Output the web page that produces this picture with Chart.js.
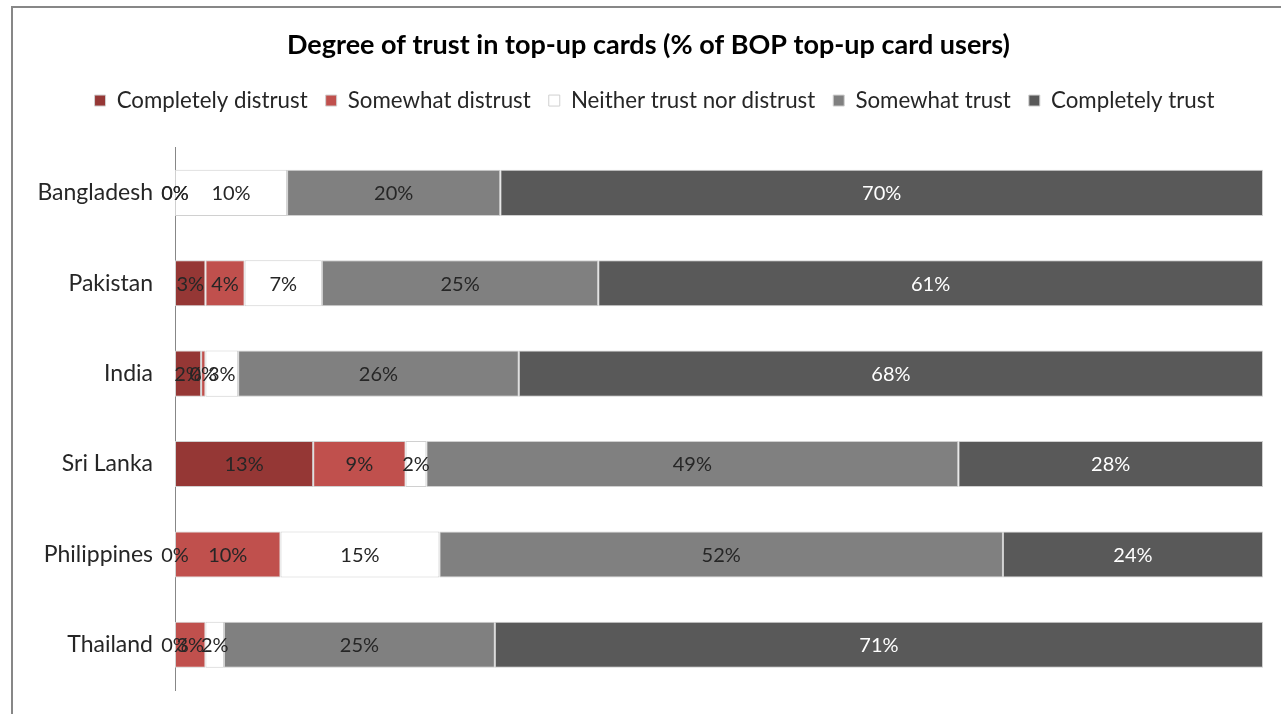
<!DOCTYPE html>
<html>
<head>
<meta charset="utf-8">
<script src="https://cdn.jsdelivr.net/npm/chart.js@4"></script>
<style>
  html, body { margin: 0; padding: 0; background: #fff; overflow: hidden; }
  #wrap { position: relative; width: 1281px; height: 714px; }
  #frame { position: absolute; left: 11px; top: 6px; right: 0; bottom: 0;
           border-left: 2px solid #878787; border-top: 2px solid #878787; pointer-events: none; }
  canvas { display: block; }
</style>
</head>
<body>
<div id="wrap">
  <canvas id="trustChart" width="1281" height="714"></canvas>
  <div id="frame"></div>
</div>
<script>
// Países (categorías)
var countries = ['Bangladesh', 'Pakistan', 'India', 'Sri Lanka', 'Philippines', 'Thailand'];

// Series (% de usuarios)
var completelyDistrust = [0, 2.8, 2.4, 12.7, 0, 0];
var somewhatDistrust   = [0, 3.6, 0.4, 8.5, 9.7, 2.8];
var neitherTrust       = [10.3, 7.1, 3.0, 1.9, 14.6, 1.7];
var somewhatTrust      = [19.6, 25.4, 25.8, 48.9, 51.8, 24.9];
var completelyTrust    = [70.1, 61.1, 68.4, 28.0, 23.9, 70.6];

var seriesNames = ['Completely distrust', 'Somewhat distrust', 'Neither trust nor distrust', 'Somewhat trust', 'Completely trust'];
var seriesColors = ['#953735', '#C0504D', '#FFFFFF', '#808080', '#595959'];
var labelColors = ['#262626', '#262626', '#262626', '#262626', '#FFFFFF'];

var FONT = "Lato, 'Open Sans', sans-serif";

// Plugin sencillo para escribir los porcentajes dentro de cada barra
var barLabels = {
    id: 'barLabels',
    afterDatasetsDraw: function(chart) {
        var ctx = chart.ctx;
        ctx.save();
        ctx.font = '20px ' + FONT;
        ctx.textAlign = 'center';
        ctx.textBaseline = 'middle';
        chart.data.datasets.forEach(function(ds, i) {
            var meta = chart.getDatasetMeta(i);
            meta.data.forEach(function(bar, j) {
                var v = ds.data[j];
                ctx.fillStyle = labelColors[i];
                var cx = (bar.x + bar.base) / 2;
                ctx.fillText(Math.round(v) + '%', cx, bar.y + 1);
            });
        });
        ctx.restore();
    }
};

// Espacio extra debajo de la leyenda y desplazamiento del título/leyenda a la derecha
var legendGap = {
    id: 'legendGap',
    beforeLayout: function(chart) {
        var lg = chart.legend;
        if (lg && !lg._gapPatched) {
            var origFit = lg.fit;
            lg.fit = function() {
                origFit.call(this);
                this.height += 26;
            };
            lg._gapPatched = true;
        }
    },
    afterLayout: function(chart) {
        if (chart.titleBlock) chart.titleBlock.left += 34;
        if (chart.legend) chart.legend.left += 46;
    }
};

var data = [completelyDistrust, somewhatDistrust, neitherTrust, somewhatTrust, completelyTrust];

var ctx = document.getElementById('trustChart').getContext('2d');
var trustChart = new Chart(ctx, {
    type: 'bar',
    data: {
        labels: countries,
        datasets: data.map(function(values, i) {
            return {
                label: seriesNames[i],
                data: values,
                backgroundColor: seriesColors[i],
                borderColor: '#D0D0D0',
                borderWidth: 1,
                borderSkipped: false,
                barPercentage: 0.51,
                categoryPercentage: 1.0
            };
        })
    },
    options: {
        indexAxis: 'y',
        responsive: false,
        animation: false,
        layout: { padding: { left: 0, right: 18, top: 14, bottom: 24 } },
        scales: {
            x: {
                stacked: true,
                min: 0,
                max: 100,
                display: false
            },
            y: {
                stacked: true,
                grid: { display: false, drawTicks: false },
                border: { display: true, color: '#878787', width: 1 },
                ticks: {
                    color: '#262626',
                    padding: 22,
                    font: { family: FONT, size: 23 }
                },
                afterFit: function(scale) {
                    scale.width = 175;
                    scale.paddingTop = 0;
                    scale.paddingBottom = 0;
                }
            }
        },
        plugins: {
            title: {
                display: true,
                text: 'Degree of trust in top-up cards (% of BOP top-up card users)',
                color: '#000',
                font: { family: FONT, size: 27, weight: 'bold' },
                padding: { top: 15, bottom: 10 }
            },
            legend: {
                position: 'top',
                labels: {
                    boxWidth: 11,
                    boxHeight: 11,
                    padding: 18,
                    color: '#262626',
                    font: { family: FONT, size: 22.3 }
                }
            },
            tooltip: { enabled: false }
        }
    },
    plugins: [barLabels, legendGap]
});
</script>
</body>
</html>
